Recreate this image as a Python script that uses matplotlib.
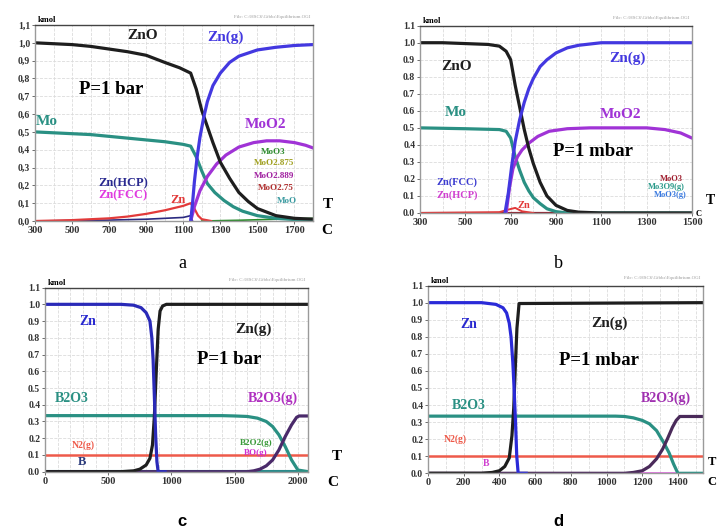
import matplotlib.pyplot as plt
import numpy as np

W, H = 717, 528

# ---------------- panel a : ZnO + Mo, P = 1 bar ----------------
a_T_zno = [300, 400, 500, 600, 700, 800, 900, 1000, 1080, 1140, 1170, 1200, 1230, 1260, 1300, 1350, 1400, 1450, 1500, 1600, 1700, 1800]
a_zno = [1.0, 0.995, 0.99, 0.98, 0.965, 0.95, 0.93, 0.89, 0.86, 0.83, 0.74, 0.62, 0.53, 0.44, 0.33, 0.24, 0.16, 0.11, 0.07, 0.03, 0.015, 0.01]
a_T_zng = [1140, 1150, 1160, 1175, 1190, 1210, 1230, 1260, 1300, 1350, 1400, 1500, 1600, 1700, 1800]
a_zng = [0.0, 0.1, 0.22, 0.36, 0.47, 0.58, 0.67, 0.76, 0.83, 0.89, 0.925, 0.96, 0.975, 0.985, 0.99]
a_T_mo = [300, 400, 500, 600, 700, 800, 900, 1000, 1100, 1140, 1170, 1200, 1230, 1270, 1320, 1370, 1420, 1500, 1600, 1700, 1800]
a_mo = [0.5, 0.495, 0.49, 0.485, 0.475, 0.465, 0.455, 0.445, 0.43, 0.42, 0.36, 0.28, 0.21, 0.16, 0.115, 0.08, 0.055, 0.03, 0.015, 0.008, 0.005]
a_T_moo2 = [1140, 1160, 1190, 1230, 1280, 1330, 1400, 1480, 1550, 1620, 1700, 1760, 1800]
a_moo2 = [0.0, 0.08, 0.17, 0.25, 0.32, 0.37, 0.415, 0.44, 0.45, 0.45, 0.44, 0.425, 0.41]
a_T_zn = [300, 500, 700, 800, 900, 1000, 1100, 1140, 1160, 1180, 1200, 1250]
a_zn = [0.0, 0.005, 0.015, 0.025, 0.04, 0.06, 0.085, 0.1, 0.07, 0.03, 0.01, 0.0]
a_T_hcp = [300, 700, 900, 1100, 1140, 1150]
a_hcp = [0.0, 0.005, 0.01, 0.02, 0.03, 0.0]
a_T_moo3 = [1200, 1400, 1600, 1800]
a_moo3 = [0.0, 0.004, 0.01, 0.015]

# ---------------- panel b : ZnO + Mo, P = 1 mbar ----------------
b_T_zno = [300, 400, 500, 600, 650, 680, 700, 720, 740, 760, 780, 800, 830, 860, 900, 950, 1000, 1100, 1500]
b_zno = [1.0, 1.0, 0.995, 0.99, 0.98, 0.95, 0.9, 0.75, 0.62, 0.49, 0.38, 0.29, 0.18, 0.1, 0.045, 0.015, 0.005, 0.0, 0.0]
b_T_zng = [675, 690, 705, 720, 740, 760, 780, 800, 830, 860, 900, 950, 1000, 1100, 1500]
b_zng = [0.0, 0.12, 0.28, 0.42, 0.55, 0.65, 0.73, 0.79, 0.86, 0.9, 0.94, 0.97, 0.985, 1.0, 1.0]
b_T_mo = [300, 500, 650, 680, 700, 720, 740, 760, 780, 800, 830, 860, 900, 950, 1500]
b_mo = [0.5, 0.495, 0.49, 0.48, 0.44, 0.33, 0.25, 0.18, 0.13, 0.09, 0.055, 0.025, 0.008, 0.0, 0.0]
b_T_moo2 = [680, 695, 710, 730, 750, 780, 820, 870, 950, 1050, 1200, 1300, 1380, 1450, 1500]
b_moo2 = [0.0, 0.15, 0.26, 0.33, 0.37, 0.41, 0.45, 0.48, 0.495, 0.5, 0.5, 0.5, 0.49, 0.47, 0.44]
b_T_zn = [300, 650, 690, 720, 750, 800]
b_zn = [0.0, 0.005, 0.02, 0.03, 0.01, 0.0]
b_T_moo3 = [300, 1500]
b_moo3 = [0.0, 0.0]

# ---------------- panel c : Zn + B2O3, P = 1 bar ----------------
c_T_zn = [0, 300, 600, 700, 760, 800, 830, 845, 855, 865, 875, 885, 895, 950]
c_zn = [1.0, 1.0, 1.0, 0.995, 0.98, 0.95, 0.9, 0.8, 0.67, 0.45, 0.22, 0.06, 0.0, 0.0]
c_T_zng = [0, 600, 700, 750, 800, 830, 850, 865, 880, 895, 910, 930, 960, 2080]
c_zng = [0.0, 0.0, 0.005, 0.015, 0.04, 0.08, 0.16, 0.33, 0.6, 0.85, 0.96, 0.99, 1.0, 1.0]
c_T_b2o3 = [0, 1400, 1500, 1600, 1680, 1750, 1800, 1850, 1900, 1950, 2000, 2080]
c_b2o3 = [0.335, 0.335, 0.333, 0.33, 0.32, 0.3, 0.27, 0.22, 0.15, 0.07, 0.01, 0.0]
c_T_b2o3g = [0, 1600, 1650, 1700, 1750, 1800, 1850, 1900, 1950, 1990, 2010, 2080]
c_b2o3g = [0.0, 0.0, 0.005, 0.015, 0.035, 0.07, 0.13, 0.21, 0.28, 0.325, 0.333, 0.333]
c_T_n2 = [0, 2080]
c_n2 = [0.1, 0.1]
c_T_b = [0, 2080]
c_b = [0.003, 0.003]

# ---------------- panel d : Zn + B2O3, P = 1 mbar ----------------
d_T_zn = [0, 300, 380, 420, 440, 455, 465, 475, 482, 490, 497, 505, 550]
d_zn = [1.0, 1.0, 0.99, 0.97, 0.94, 0.88, 0.8, 0.65, 0.5, 0.3, 0.1, 0.0, 0.0]
d_T_zng = [0, 300, 360, 400, 430, 455, 470, 480, 490, 498, 510, 1540]
d_zng = [0.0, 0.0, 0.005, 0.015, 0.04, 0.09, 0.22, 0.38, 0.65, 0.85, 0.995, 1.0]
d_T_b2o3 = [0, 1050, 1100, 1150, 1200, 1240, 1280, 1320, 1350, 1375, 1395, 1400, 1540]
d_b2o3 = [0.335, 0.335, 0.333, 0.325, 0.31, 0.29, 0.25, 0.18, 0.12, 0.055, 0.01, 0.0, 0.0]
d_T_b2o3g = [0, 1100, 1150, 1200, 1240, 1280, 1313, 1340, 1369, 1390, 1410, 1540]
d_b2o3g = [0.0, 0.0, 0.005, 0.015, 0.04, 0.085, 0.14, 0.2, 0.27, 0.31, 0.333, 0.333]
d_T_n2 = [0, 1540]
d_n2 = [0.1, 0.1]
d_T_b = [0, 1540]
d_b = [0.003, 0.003]

yticks = np.arange(0, 1.11, 0.1)

SERIF = "Liberation Serif"
BLACK = "#1e1e1e"
BLUE = "#4338e0"
TEAL = "#2a9083"
PURPLE = "#a033d6"
RED = "#e23a3a"
LW = 2.3


def make_axes(x0, x1, y0, y1):
    return fig.add_axes([x0 / W, 1 - y1 / H, (x1 - x0) / W, (y1 - y0) / H])


def setup(ax, xlim, xticks, comma=False, minor=100):
    ax.set_xlim(*xlim)
    ax.set_ylim(0, 1.1)
    ax.set_xticks(xticks)
    ax.set_xticklabels([str(t) for t in xticks], family=SERIF, weight="bold", fontsize=7.5, color="#333333")
    ylab = [f"{v:.1f}" for v in yticks]
    if comma:
        ylab = [s.replace(".", ",") for s in ylab]
    ax.set_yticks(yticks)
    ax.set_yticklabels(ylab, family=SERIF, weight="bold", fontsize=7, color="#333333")
    ax.set_xticks(np.arange(xlim[0], xlim[1], minor), minor=True)
    ax.tick_params(which="both", length=2, width=0.6, pad=1.5, color="#555555")
    ax.tick_params(which="minor", length=0)
    ax.grid(which="both", color="#dcdcdc", lw=0.6, ls="--")
    ax.set_axisbelow(True)
    for s in ax.spines.values():
        s.set_color("#9a9a9a")
        s.set_linewidth(1.0)
    ax.spines["top"].set_color("#444444")
    ax.text(0.01, 1.005, "kmol", transform=ax.transAxes, family=SERIF, weight="bold",
            fontsize=6, va="bottom", ha="left")
    ax.text(0.99, 1.03, "File: C:\\HSC6\\Gibbs\\Equilibrium.OGI", transform=ax.transAxes,
            family=SERIF, fontsize=3.5, color="#9a9a9a", va="bottom", ha="right")


def lab(ax, x, y, s, color, size=10, weight="bold", ha="center"):
    ax.text(x, y, s, color=color, fontsize=size, family=SERIF, weight=weight, ha=ha, va="center")


fig = plt.figure(figsize=(W / 100, H / 100), dpi=100)

# ---- a ----
ax = make_axes(35, 313, 25, 221)
setup(ax, (300, 1800), list(range(300, 1800, 200)), comma=True)
ax.plot(a_T_hcp, a_hcp, color="#2a2a80", lw=1.2)
ax.plot(a_T_moo3, a_moo3, color="#2a8a2a", lw=1.2)
ax.plot(a_T_zn, a_zn, color=RED, lw=1.6)
ax.plot(a_T_mo, a_mo, color=TEAL, lw=LW)
ax.plot(a_T_moo2, a_moo2, color=PURPLE, lw=LW)
ax.plot(a_T_zno, a_zno, color=BLACK, lw=LW)
ax.plot(a_T_zng, a_zng, color=BLUE, lw=LW)
lab(ax, 880, 1.04, "ZnO", BLACK, 11)
lab(ax, 1330, 1.03, "Zn(g)", BLUE, 11)
lab(ax, 710, 0.74, "P=1 bar", "black", 13.5)
lab(ax, 365, 0.56, "Mo", TEAL, 11)
lab(ax, 1545, 0.54, "MoO2", PURPLE, 11)
lab(ax, 775, 0.21, "Zn(HCP)", "#2a2a90", 9)
lab(ax, 775, 0.145, "Zn(FCC)", "#e03ae0", 9)
lab(ax, 1072, 0.12, "Zn", RED, 9)
lab(ax, 1585, 0.39, "MoO3", "#2e8b2e", 6.5)
lab(ax, 1590, 0.325, "MoO2.875", "#a0a020", 6.5)
lab(ax, 1590, 0.255, "MoO2.889", "#a020a0", 6.5)
lab(ax, 1600, 0.185, "MoO2.75", "#b03030", 6.5)
lab(ax, 1660, 0.115, "MoO", "#3a9aa0", 6.5)
fig.text(328 / W, 1 - 205 / H, "T", family=SERIF, weight="bold", fontsize=11, ha="center", va="center")
fig.text(327 / W, 1 - 231 / H, "C", family=SERIF, weight="bold", fontsize=11, ha="center", va="center")
fig.text(182 / W, 1 - 263 / H, "a", family=SERIF, fontsize=13, ha="center", va="center")

# ---- b ----
ax = make_axes(420, 692, 25.7, 213)
setup(ax, (300, 1500), list(range(300, 1501, 200)))
ax.plot(b_T_moo3, b_moo3, color="#8a1a2a", lw=LW)
ax.plot(b_T_zn, b_zn, color=RED, lw=1.4)
ax.plot(b_T_mo, b_mo, color=TEAL, lw=LW)
ax.plot(b_T_moo2, b_moo2, color=PURPLE, lw=LW)
ax.plot(b_T_zno, b_zno, color=BLACK, lw=LW)
ax.plot(b_T_zng, b_zng, color=BLUE, lw=LW)
lab(ax, 460, 0.86, "ZnO", BLACK, 11)
lab(ax, 1213, 0.91, "Zn(g)", BLUE, 11)
lab(ax, 460, 0.59, "Mo", TEAL, 11)
lab(ax, 1185, 0.58, "MoO2", PURPLE, 11)
lab(ax, 1065, 0.36, "P=1 mbar", "black", 13.5)
lab(ax, 465, 0.18, "Zn(FCC)", "#3a3ad0", 7.5)
lab(ax, 465, 0.105, "Zn(HCP)", "#d040d0", 7.5)
lab(ax, 760, 0.045, "Zn", RED, 7.5)
lab(ax, 1460, 0.2, "MoO3", "#a02030", 6, ha="right")
lab(ax, 1470, 0.155, "Mo3O9(g)", "#2a9a8a", 6, ha="right")
lab(ax, 1475, 0.105, "MoO3(g)", "#3a7ae0", 6, ha="right")
fig.text(715 / W, 1 - 200 / H, "T", family=SERIF, weight="bold", fontsize=10, ha="right", va="center")
fig.text(696 / W, 1 - 214 / H, "C", family=SERIF, weight="bold", fontsize=6, ha="left", va="center")
fig.text(558 / W, 1 - 263 / H, "b", family=SERIF, fontsize=13, ha="center", va="center")

# ---- c ----
ax = make_axes(45, 308, 287.6, 471.7)
setup(ax, (0, 2080), [0, 500, 1000, 1500, 2000])
ax.plot(c_T_b, c_b, color="#2a8a8a", lw=1.5)
ax.plot(c_T_n2, c_n2, color="#ee5a4a", lw=1.8)
ax.plot(c_T_b2o3, c_b2o3, color=TEAL, lw=LW)
ax.plot(c_T_b2o3g, c_b2o3g, color="#4a2a6a", lw=LW)
ax.plot(c_T_zng, c_zng, color=BLACK, lw=LW)
ax.plot(c_T_zn, c_zn, color="#2a2ab8", lw=LW)
lab(ax, 340, 0.9, "Zn", "#2a2ad0", 10)
lab(ax, 1645, 0.85, "Zn(g)", BLACK, 11)
lab(ax, 1460, 0.67, "P=1 bar", "black", 13.5)
lab(ax, 215, 0.44, "B2O3", TEAL, 10)
lab(ax, 1800, 0.44, "B2O3(g)", "#b030c0", 10)
lab(ax, 300, 0.16, "N2(g)", "#ee5a4a", 7)
lab(ax, 290, 0.06, "B", "#2a3a7a", 9)
lab(ax, 1670, 0.17, "B2O2(g)", "#3a9a3a", 6.5)
lab(ax, 1670, 0.11, "BO(g)", "#d030d0", 6.5)
fig.text(337 / W, 1 - 457 / H, "T", family=SERIF, weight="bold", fontsize=11, ha="center", va="center")
fig.text(333 / W, 1 - 482 / H, "C", family=SERIF, weight="bold", fontsize=11, ha="center", va="center")
fig.text(182 / W, 1 - 522 / H, "c", family="Liberation Sans", weight="bold", fontsize=12, ha="center", va="center")

# ---- d ----
ax = make_axes(428, 703, 285.6, 473.3)
setup(ax, (0, 1540), list(range(0, 1401, 200)))
ax.plot(d_T_b, d_b, color="#e050e0", lw=1.8)
ax.plot(d_T_n2, d_n2, color="#ee5a4a", lw=1.8)
ax.plot(d_T_b2o3, d_b2o3, color=TEAL, lw=LW)
ax.plot(d_T_b2o3g, d_b2o3g, color="#4a2a5a", lw=LW)
ax.plot(d_T_zng, d_zng, color=BLACK, lw=LW)
ax.plot(d_T_zn, d_zn, color="#2a2ad8", lw=LW)
lab(ax, 230, 0.87, "Zn", "#2a2ad0", 10)
lab(ax, 1014, 0.88, "Zn(g)", BLACK, 11)
lab(ax, 958, 0.66, "P=1 mbar", "black", 13.5)
lab(ax, 230, 0.4, "B2O3", TEAL, 10)
lab(ax, 1330, 0.44, "B2O3(g)", "#a030b0", 10)
lab(ax, 155, 0.2, "N2(g)", "#ee5a4a", 7)
lab(ax, 323, 0.06, "B", "#d040d0", 7)
fig.text(716 / W, 1 - 462 / H, "T", family=SERIF, weight="bold", fontsize=9, ha="right", va="center")
fig.text(716 / W, 1 - 482 / H, "C", family=SERIF, weight="bold", fontsize=9, ha="right", va="center")
fig.text(558 / W, 1 - 522 / H, "d", family="Liberation Sans", weight="bold", fontsize=12, ha="center", va="center")

fig.savefig("out.png", dpi=100)
